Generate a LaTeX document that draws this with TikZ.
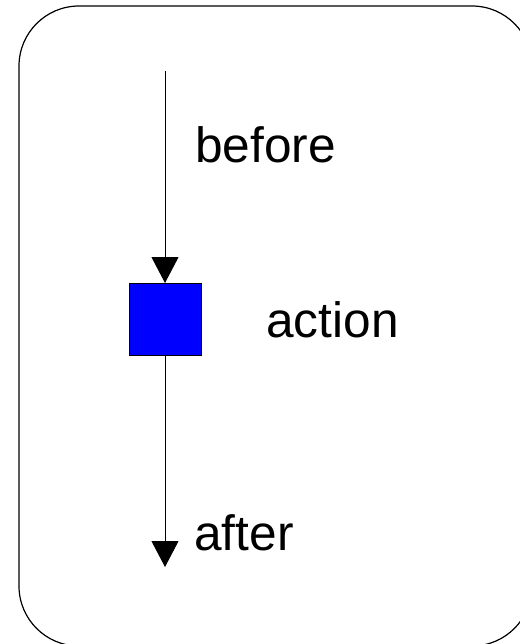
\documentclass[tikz,border=0pt]{standalone}
\usepackage{fontspec}
\setmainfont{Liberation Sans}
\usetikzlibrary{arrows.meta}
\definecolor{actionblue}{HTML}{0000FF}

\tikzset{
  stepbox/.style={draw=black,line width=0.5pt,fill=actionblue,minimum size=36pt,inner sep=0pt},
  flow/.style={line width=0.5pt,-{Triangle[width=13.5pt,length=13pt]}},
  lbl/.style={anchor=base west,inner sep=0pt,font=\fontsize{24.8}{29}\selectfont}
}

\begin{document}
\begin{tikzpicture}[x=0.5pt,y=-0.5pt]
\useasboundingbox (0,0) rectangle (520,644);
% Frame
\begin{scope}
\clip (0,0) rectangle (520,644);
\draw[line width=0.6pt,rounded corners=30pt] (19,6) rectangle (532,646);
\end{scope}

% Action box and flow
\coordinate (start) at (165,71);
\coordinate (stop) at (165,567);
\node[stepbox] (action) at (165,319.5) {};
\draw[flow] (start) -- (action.north);
\draw[flow] (action.south) -- (stop);

% Labels
\node[lbl] (before) at (195,162) {before};
\node[lbl] (act) at (266,337) {action};
\node[lbl] (after) at (194,550) {after};
\end{tikzpicture}
\end{document}
